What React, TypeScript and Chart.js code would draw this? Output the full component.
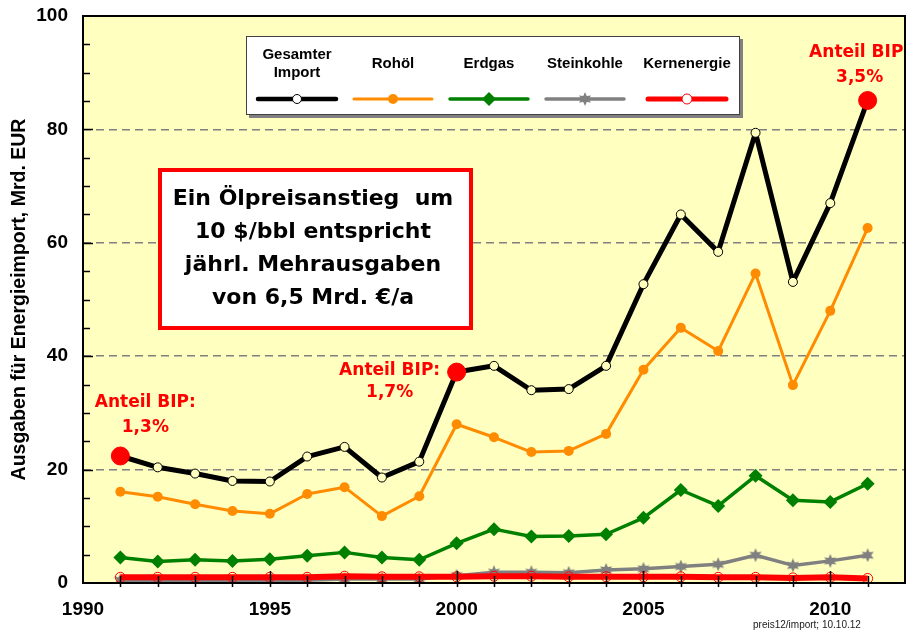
import React, { useEffect, useRef } from "react";
import { Chart, registerables } from "chart.js";

Chart.register(...registerables);

const years = [1991, 1992, 1993, 1994, 1995, 1996, 1997, 1998, 1999, 2000, 2001, 2002, 2003, 2004, 2005, 2006, 2007, 2008, 2009, 2010, 2011];
const gesamt = [22.4, 20.4, 19.3, 18.0, 17.9, 22.3, 24.0, 18.6, 21.4, 37.2, 38.3, 34.0, 34.2, 38.3, 52.7, 65.0, 58.4, 79.4, 53.1, 67.0, 85.1];
const rohoel = [16.1, 15.2, 13.9, 12.7, 12.2, 15.7, 16.9, 11.8, 15.3, 28.0, 25.7, 23.1, 23.3, 26.3, 37.6, 45.0, 40.9, 54.6, 34.9, 48.0, 62.6];
const erdgas = [4.5, 3.8, 4.1, 3.9, 4.2, 4.8, 5.4, 4.5, 4.1, 7.0, 9.5, 8.2, 8.3, 8.6, 11.5, 16.4, 13.6, 18.9, 14.6, 14.3, 17.5];
const steinkohle = [0.5, 0.4, 0.4, 0.4, 0.4, 0.5, 0.7, 0.7, 0.7, 1.3, 1.9, 1.9, 1.8, 2.3, 2.5, 2.9, 3.3, 4.9, 3.1, 3.9, 4.9];
const kernenergie = [1.0, 1.0, 1.0, 1.0, 1.0, 1.0, 1.2, 1.1, 1.1, 1.1, 1.2, 1.2, 1.1, 1.1, 1.1, 1.1, 1.0, 1.0, 0.9, 1.0, 0.8];

const seriesNames = ["Gesamter Import", "Rohöl", "Erdgas", "Steinkohle", "Kernenergie"];
const legendLabels = [["Gesamter", "Import"], ["Rohöl"], ["Erdgas"], ["Steinkohle"], ["Kernenergie"]];
const highlightYears = [1991, 2000, 2011];
const shareLabels = [["Anteil BIP:", "1,3%"], ["Anteil BIP:", "1,7%"], ["Anteil BIP:", "3,5%"]];
const boxLines = ["Ein Ölpreisanstieg  um", "10 $/bbl entspricht", "jährl. Mehrausgaben", "von 6,5 Mrd. €/a"];
const yTitle = "Ausgaben für Energieimport, Mrd. EUR";
const footer = "preis12/import; 10.10.12";

const BG = "#FFFFC0";
const C_BLACK = "#000000";
const C_ORANGE = "#FF8C00";
const C_GREEN = "#008000";
const C_GRAY = "#808080";
const C_RED = "#FF0000";
const AXIS_FONT = "'Liberation Sans', Arial, sans-serif";
const NOTE_FONT = "'DejaVu Sans', Verdana, sans-serif";

function starPath(ctx: CanvasRenderingContext2D, cx: number, cy: number, r: number) {
  ctx.beginPath();
  for (let i = 0; i < 12; i++) {
    const a = -Math.PI / 2 + (i * Math.PI) / 6;
    const rr = i % 2 === 0 ? r : r * 0.5;
    const px = cx + Math.cos(a) * rr;
    const py = cy + Math.sin(a) * rr;
    if (i === 0) ctx.moveTo(px, py);
    else ctx.lineTo(px, py);
  }
  ctx.closePath();
}

function makeStar(size: number, color: string) {
  const c = document.createElement("canvas");
  c.width = size;
  c.height = size;
  const g = c.getContext("2d")!;
  g.fillStyle = color;
  starPath(g, size / 2, size / 2, size / 2);
  g.fill();
  return c;
}

const toXY = (vals: number[]) => years.map((x, i) => ({ x, y: vals[i] }));

function drawMarker(ctx: CanvasRenderingContext2D, kind: number, x: number, y: number) {
  ctx.save();
  if (kind === 0) {
    ctx.beginPath();
    ctx.arc(x, y, 4.5, 0, Math.PI * 2);
    ctx.fillStyle = "#fff";
    ctx.fill();
    ctx.lineWidth = 1;
    ctx.strokeStyle = C_BLACK;
    ctx.stroke();
  } else if (kind === 1) {
    ctx.beginPath();
    ctx.arc(x, y, 5, 0, Math.PI * 2);
    ctx.fillStyle = C_ORANGE;
    ctx.fill();
  } else if (kind === 2) {
    ctx.beginPath();
    ctx.moveTo(x - 7, y);
    ctx.lineTo(x, y - 7);
    ctx.lineTo(x + 7, y);
    ctx.lineTo(x, y + 7);
    ctx.closePath();
    ctx.fillStyle = C_GREEN;
    ctx.fill();
  } else if (kind === 3) {
    ctx.fillStyle = C_GRAY;
    starPath(ctx, x, y, 7);
    ctx.fill();
  } else {
    ctx.beginPath();
    ctx.arc(x, y, 5, 0, Math.PI * 2);
    ctx.fillStyle = "#fff";
    ctx.fill();
    ctx.lineWidth = 1;
    ctx.strokeStyle = C_RED;
    ctx.stroke();
  }
  ctx.restore();
}

const overlayPlugin = {
  id: "overlay",
  beforeDraw(chart: any) {
    const { ctx, chartArea: a } = chart;
    ctx.save();
    ctx.fillStyle = "#ffffff";
    ctx.fillRect(0, 0, chart.width, chart.height);
    ctx.fillStyle = BG;
    ctx.fillRect(a.left, a.top, a.right - a.left, a.bottom - a.top);
    ctx.restore();
  },
  afterDatasetsDraw(chart: any) {
    const { ctx, chartArea: a } = chart;
    const xs = chart.scales.x;
    const ys = chart.scales.y;
    ctx.save();
    // inside ticks
    ctx.strokeStyle = C_BLACK;
    ctx.lineWidth = 1.5;
    for (let v = 5; v < 100; v += 5) {
      const py = Math.round(ys.getPixelForValue(v)) + 0.5;
      const len = v % 20 === 0 ? 10 : 7;
      ctx.beginPath();
      ctx.moveTo(a.left, py);
      ctx.lineTo(a.left + len, py);
      ctx.stroke();
    }
    for (let yr = 1991; yr < 2012; yr++) {
      const px = Math.round(xs.getPixelForValue(yr)) + 0.5;
      const len = yr % 5 === 0 ? 12 : 7;
      ctx.beginPath();
      ctx.moveTo(px, a.bottom + 4);
      ctx.lineTo(px, a.bottom - len);
      ctx.stroke();
    }
    // plot border
    ctx.lineWidth = 2;
    ctx.strokeRect(a.left, a.top, a.right - a.left, a.bottom - a.top);

    // share labels
    ctx.save();
    ctx.beginPath();
    ctx.rect(a.left, a.top, a.right - a.left - 1, a.bottom - a.top);
    ctx.clip();
    ctx.fillStyle = C_RED;
    ctx.font = `bold 17px ${NOTE_FONT}`;
    ctx.textAlign = "center";
    ctx.textBaseline = "middle";
    const offs = [
      [25, -53, -28],
      [-67, -1, 21],
      [-8, -48, -23],
    ];
    highlightYears.forEach((yr, k) => {
      const i = years.indexOf(yr);
      const px = xs.getPixelForValue(yr);
      const py = ys.getPixelForValue(gesamt[i]);
      const [dx, dy1, dy2] = offs[k];
      ctx.fillText(shareLabels[k][0], px + dx, py + dy1);
      ctx.fillText(shareLabels[k][1], px + dx, py + dy2);
    });
    ctx.restore();

    // text box
    ctx.fillStyle = "#ffffff";
    ctx.fillRect(160, 170, 311, 158);
    ctx.strokeStyle = C_RED;
    ctx.lineWidth = 4;
    ctx.strokeRect(160, 170, 311, 158);
    ctx.fillStyle = C_BLACK;
    ctx.font = `bold 22px ${NOTE_FONT}`;
    ctx.textAlign = "center";
    ctx.textBaseline = "middle";
    boxLines.forEach((t, i) => ctx.fillText(t, 313, 199 + i * 33));

    // legend
    ctx.fillStyle = "#808080";
    ctx.fillRect(249, 39, 494, 79);
    ctx.fillStyle = "#ffffff";
    ctx.fillRect(246, 36, 494, 79);
    ctx.strokeStyle = "#404040";
    ctx.lineWidth = 1;
    ctx.strokeRect(246.5, 36.5, 493, 78);
    const lx = [297, 393, 489, 585, 687];
    const cols = [C_BLACK, C_ORANGE, C_GREEN, C_GRAY, C_RED];
    const lws = [4.5, 3, 3.5, 3.5, 5];
    ctx.font = `bold 15px ${AXIS_FONT}`;
    ctx.fillStyle = C_BLACK;
    legendLabels.forEach((lines, i) => {
      if (lines.length === 2) {
        ctx.fillText(lines[0], lx[i], 55);
        ctx.fillText(lines[1], lx[i], 73);
      } else {
        ctx.fillText(lines[0], lx[i], 64);
      }
      ctx.save();
      ctx.strokeStyle = cols[i];
      ctx.lineWidth = lws[i];
      ctx.lineCap = "round";
      ctx.beginPath();
      ctx.moveTo(lx[i] - 39, 99);
      ctx.lineTo(lx[i] + 39, 99);
      ctx.stroke();
      ctx.restore();
      drawMarker(ctx, i, lx[i], 99);
    });

    // footer
    ctx.fillStyle = "#202020";
    ctx.font = `10px ${AXIS_FONT}`;
    ctx.textAlign = "left";
    ctx.fillText(footer, 753, 625);
    ctx.restore();
  },
};

export default function App() {
  const ref = useRef<HTMLCanvasElement | null>(null);
  useEffect(() => {
    document.body.style.margin = "0";
    const star = makeStar(14, C_GRAY);
    const isHi = (c: any) => highlightYears.includes(years[c.dataIndex]);
    const chart = new Chart(ref.current!, {
      type: "line",
      data: {
        datasets: [
          {
            label: seriesNames[0],
            data: toXY(gesamt),
            borderColor: C_BLACK,
            borderWidth: 5,
            borderJoinStyle: "round",
            pointRadius: (c: any) => (isHi(c) ? 9 : 4.5),
            pointBackgroundColor: (c: any) => (isHi(c) ? C_RED : BG),
            pointBorderColor: (c: any) => (isHi(c) ? C_RED : C_BLACK),
            pointBorderWidth: 1,
          },
          {
            label: seriesNames[1],
            data: toXY(rohoel),
            borderColor: C_ORANGE,
            borderWidth: 3,
            borderJoinStyle: "round",
            pointRadius: 5,
            pointBackgroundColor: C_ORANGE,
            pointBorderColor: C_ORANGE,
            pointBorderWidth: 0,
          },
          {
            label: seriesNames[2],
            data: toXY(erdgas),
            borderColor: C_GREEN,
            borderWidth: 3.5,
            borderJoinStyle: "round",
            pointStyle: "rectRot",
            pointRadius: 7,
            pointBackgroundColor: C_GREEN,
            pointBorderColor: C_GREEN,
            pointBorderWidth: 0,
          },
          {
            label: seriesNames[4],
            data: toXY(kernenergie),
            borderColor: C_RED,
            borderWidth: 6,
            borderJoinStyle: "round",
            pointRadius: 5,
            pointBackgroundColor: "rgba(0,0,0,0)",
            pointBorderColor: C_RED,
            pointBorderWidth: 1,
          },
          {
            label: seriesNames[3],
            data: toXY(steinkohle),
            borderColor: C_GRAY,
            borderWidth: 3.5,
            borderJoinStyle: "round",
            pointStyle: star as any,
            pointRadius: 7,
          },
        ],
      },
      options: {
        animation: false,
        responsive: false,
        devicePixelRatio: 1,
        layout: { autoPadding: false, padding: { top: 16, right: 2, left: 0, bottom: 0 } },
        plugins: { legend: { display: false }, tooltip: { enabled: false } },
        scales: {
          x: {
            type: "linear",
            min: 1990,
            max: 2012,
            afterFit: (s: any) => {
              s.height = 47;
            },
            ticks: {
              stepSize: 1,
              autoSkip: false,
              maxRotation: 0,
              padding: 1,
              color: C_BLACK,
              font: { family: AXIS_FONT, size: 19, weight: "bold" },
              callback: (v: any) => (v % 5 === 0 ? String(v) : ""),
            },
            grid: { drawOnChartArea: false, tickLength: 14, color: "rgba(0,0,0,0)", tickColor: "rgba(0,0,0,0)" },
            border: { display: false },
          },
          y: {
            min: 0,
            max: 100,
            afterFit: (s: any) => {
              s.width = 83;
            },
            ticks: {
              stepSize: 5,
              autoSkip: false,
              padding: 2,
              color: C_BLACK,
              font: { family: AXIS_FONT, size: 19, weight: "bold" },
              callback: (v: any) => (v % 20 === 0 ? String(v) : ""),
            },
            grid: {
              drawOnChartArea: true,
              tickLength: 13,
              tickColor: "rgba(0,0,0,0)",
              lineWidth: 1.5,
              color: (c: any) => ([20, 40, 60, 80].includes(c.tick?.value) ? "#808080" : "rgba(0,0,0,0)"),
            },
            border: { display: false, dash: [8, 5] },
            title: {
              display: true,
              text: yTitle,
              color: C_BLACK,
              font: { family: AXIS_FONT, size: 19.5, weight: "bold" },
              padding: { top: 8, bottom: 0 },
            },
          },
        },
      },
      plugins: [overlayPlugin],
    } as any);
    return () => chart.destroy();
  }, []);
  return (
    <div style={{ width: 907, height: 630 }}>
      <canvas ref={ref} width={907} height={630} />
    </div>
  );
}
